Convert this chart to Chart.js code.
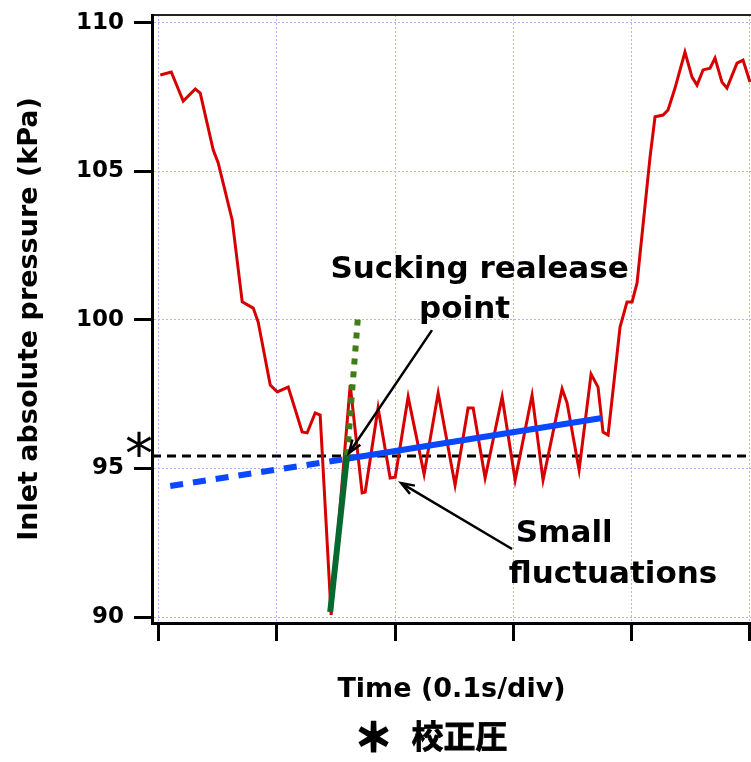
<!DOCTYPE html>
<html>
<head>
<meta charset="utf-8">
<script src="https://cdn.jsdelivr.net/npm/chart.js@4.4.1/dist/chart.umd.min.js"></script>
<style>
  body { margin: 0; background: #fff; }
  #wrap { width: 751px; height: 762px; }
</style>
</head>
<body>
<div id="wrap"><canvas id="myChart"></canvas></div>
<script>
// time in divisions (0.1 s/div), inlet pressure in kPa
const timeDiv = [0.013, 0.106, 0.207, 0.309, 0.351, 0.461, 0.503, 0.621, 0.706, 0.799,
  0.841, 0.943, 1.002, 1.095, 1.213, 1.255, 1.323, 1.365, 1.458, 1.619,
  1.720, 1.746, 1.855, 1.957, 2.000, 2.109, 2.244, 2.363, 2.506, 2.616,
  2.659, 2.760, 2.904, 3.014, 3.157, 3.250, 3.411, 3.453, 3.555, 3.656,
  3.715, 3.757, 3.800, 3.901, 3.960, 4.003, 4.045, 4.155, 4.197, 4.265,
  4.307, 4.366, 4.450, 4.510, 4.552, 4.603, 4.662, 4.704, 4.763, 4.805,
  4.890, 4.941, 5.000];
const pressure = [108.25, 108.35, 107.37, 107.78, 107.64, 105.72, 105.29, 103.37, 100.61, 100.40,
  99.93, 97.81, 97.58, 97.74, 96.23, 96.20, 96.87, 96.80, 90.07, 97.81,
  94.18, 94.21, 97.04, 94.68, 94.71, 97.41, 94.81, 97.54, 94.44, 97.04,
  97.04, 94.68, 97.41, 94.61, 97.47, 94.61, 97.68, 97.21, 94.95, 98.18,
  97.74, 96.23, 96.13, 99.76, 100.61, 100.61, 101.25, 105.49, 106.84, 106.90,
  107.07, 107.81, 109.02, 108.18, 107.91, 108.42, 108.48, 108.82, 108.01, 107.81,
  108.65, 108.75, 108.01];

const xTicks = [0, 1, 2, 3, 4, 5];
const yTicks = [90, 95, 100, 105, 110];

const refPressure = 95.42;            // 校正圧
const trendBefore = [[0.097, 94.41], [1.577, 95.32]];
const trendAfter = [[1.577, 95.32], [3.749, 96.70]];
const suckSolid = [[1.450, 90.17], [1.593, 95.45]];
const suckDotted = [[1.593, 95.45], [1.686, 100.17]];

const notes = [
  { text: 'Sucking realease', x: 2.713, y: 101.68, align: 'center' },
  { text: 'point', x: 2.586, y: 100.34, align: 'center' },
  { text: 'Small', x: 3.020, y: 92.79, align: 'left' },
  { text: 'fluctuations', x: 2.960, y: 91.41, align: 'left' }
];
const arrows = [
  { from: [2.311, 99.66], to: [1.609, 95.52] },
  { from: [2.988, 92.29], to: [2.050, 94.51] }
];

const xMin = -0.057, xMax = 5.0085;
const yMin = 89.798, yMax = 110.269;

const toPts = arr => arr.map(p => ({ x: p[0], y: p[1] }));

const annotate = {
  id: 'annotate',
  afterDatasetsDraw(chart) {
    const { ctx, scales: { x, y } } = chart;
    ctx.save();
    ctx.strokeStyle = '#000';
    ctx.lineWidth = 2.5;
    arrows.forEach(a => {
      const x1 = x.getPixelForValue(a.from[0]), y1 = y.getPixelForValue(a.from[1]);
      const x2 = x.getPixelForValue(a.to[0]), y2 = y.getPixelForValue(a.to[1]);
      const ang = Math.atan2(y2 - y1, x2 - x1);
      ctx.beginPath();
      ctx.moveTo(x1, y1);
      ctx.lineTo(x2, y2);
      ctx.moveTo(x2 - 14 * Math.cos(ang - 0.35), y2 - 14 * Math.sin(ang - 0.35));
      ctx.lineTo(x2, y2);
      ctx.lineTo(x2 - 14 * Math.cos(ang + 0.35), y2 - 14 * Math.sin(ang + 0.35));
      ctx.stroke();
    });
    ctx.fillStyle = '#000';
    ctx.textBaseline = 'middle';
    ctx.font = 'bold 31px "DejaVu Sans"';
    notes.forEach(n => {
      ctx.textAlign = n.align;
      ctx.fillText(n.text, x.getPixelForValue(n.x), y.getPixelForValue(n.y));
    });
    ctx.restore();
  },
  afterDraw(chart) {
    const { ctx, scales: { y }, chartArea } = chart;
    ctx.save();
    ctx.fillStyle = '#000';
    ctx.strokeStyle = '#000';
    ctx.textAlign = 'center';
    ctx.textBaseline = 'middle';
    // marker for the calibration pressure next to the axis
    ctx.font = '56px "DejaVu Sans"';
    ctx.fillText('*', chartArea.left - 13, y.getPixelForValue(refPressure) + 2);
    // caption under the axis title
    const mid = (chartArea.left + chartArea.right) / 2;
    ctx.lineWidth = 2.5;
    ctx.font = 'bold 38px "Noto Sans CJK JP"';
    ctx.fillText('＊', mid - 78, 737);
    ctx.strokeText('＊', mid - 78, 737);
    ctx.lineWidth = 0.8;
    ctx.font = 'bold 32px "Noto Sans CJK JP"';
    ctx.fillText('校正圧', mid + 8, 736);
    ctx.strokeText('校正圧', mid + 8, 736);
    ctx.restore();
  }
};

const gridOpts = {
  color: '#b0b0ff',
  lineWidth: 1,
  tickLength: 18,
  tickColor: '#000',
  tickWidth: 3,
  tickBorderDash: []
};

// keep the plot frame fixed: no extra room for overhanging tick labels
const noPad = s => { s.paddingTop = 0; s.paddingBottom = 0; s.paddingLeft = 0; s.paddingRight = 0; };

const ctx = document.getElementById('myChart');
const chart = new Chart(ctx, {
  type: 'line',
  data: {
    datasets: [
      { data: toPts(suckDotted), borderColor: '#3f7d16', borderWidth: 6, borderDash: [6, 7] },
      { data: toPts(suckSolid), borderColor: '#06692f', borderWidth: 6 },
      { data: toPts(trendAfter), borderColor: '#0a48ff', borderWidth: 6 },
      { data: toPts(trendBefore), borderColor: '#0a48ff', borderWidth: 6, borderDash: [13, 10] },
      { data: timeDiv.map((t, i) => ({ x: t, y: pressure[i] })), borderColor: '#d60000', borderWidth: 3 },
      { data: [{ x: xMin, y: refPressure }, { x: xMax, y: refPressure }], borderColor: '#000', borderWidth: 3, borderDash: [9, 6] }
    ]
  },
  options: {
    responsive: true,
    maintainAspectRatio: false,
    animation: false,
    layout: { padding: 0 },
    elements: { point: { radius: 0 }, line: { tension: 0 } },
    plugins: { legend: { display: false }, tooltip: { enabled: false } },
    scales: {
      x: {
        type: 'linear',
        position: 'bottom',
        min: xMin,
        max: xMax,
        afterBuildTicks: s => { s.ticks = xTicks.map(v => ({ value: v })); },
        afterFit: s => { s.height = 139; noPad(s); },
        ticks: { display: false },
        grid: gridOpts,
        border: { color: '#000', width: 3, dash: [2, 2] },
        title: {
          display: true,
          text: 'Time (0.1s/div)',
          color: '#000',
          font: { family: 'DejaVu Sans', size: 27, weight: 'bold' },
          padding: { top: 0, bottom: 56 }
        }
      },
      x2: {
        type: 'linear',
        position: 'top',
        min: xMin,
        max: xMax,
        afterFit: s => { s.height = 15; noPad(s); },
        ticks: { display: false },
        grid: { display: false, drawTicks: false },
        border: { color: '#222', width: 2 }
      },
      y: {
        min: yMin,
        max: yMax,
        afterBuildTicks: s => { s.ticks = yTicks.map(v => ({ value: v })); },
        afterFit: s => { s.width = 152; noPad(s); },
        ticks: {
          color: '#000',
          padding: 10,
          font: { family: 'DejaVu Sans', size: 23, weight: 'bold' },
          callback: v => String(v)
        },
        grid: gridOpts,
        border: { color: '#000', width: 3, dash: [2, 2] },
        title: {
          display: true,
          text: 'Inlet absolute pressure (kPa)',
          color: '#000',
          font: { family: 'DejaVu Sans', size: 27, weight: 'bold' },
          padding: { top: 14, bottom: 0 }
        }
      }
    }
  },
  plugins: [annotate]
});
</script>
</body>
</html>
